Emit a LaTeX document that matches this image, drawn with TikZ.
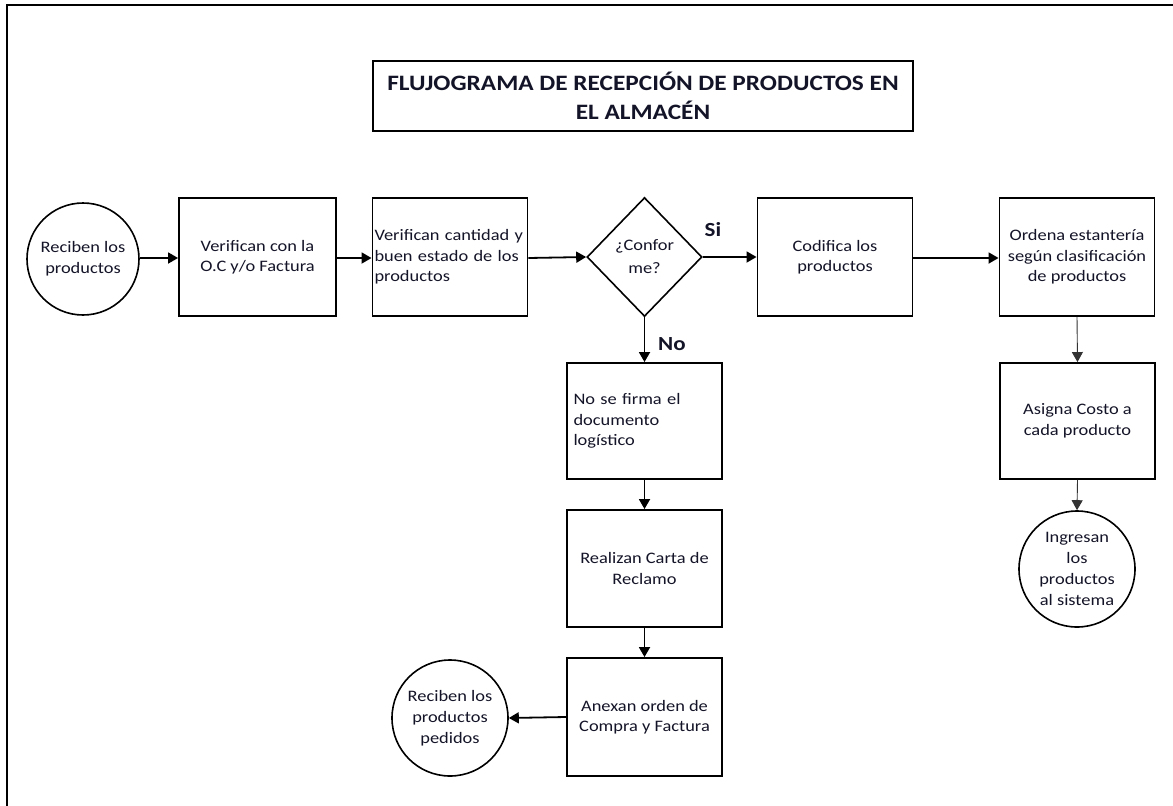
\documentclass[tikz,border=0pt]{standalone}
\usepackage{fontspec}
\setmainfont{Carlito}[FakeStretch=1.15]
\usetikzlibrary{shapes.geometric,arrows.meta}
\definecolor{txt}{RGB}{20,20,40}
\begin{document}
\begin{tikzpicture}[x=1pt,y=-1pt,
  box/.style={draw=black,line width=1.9pt,minimum width=155pt,minimum height=118pt,inner sep=2pt,align=center,font=\fontsize{16}{20.5}\selectfont,text=txt},
  lbox/.style={box,align=left,text width=#1},
  circ/.style={draw=black,line width=1.6pt,circle,minimum size=114pt,inner sep=0pt,align=center,font=\fontsize{16}{21}\selectfont,text=txt},
  dec/.style={draw=black,line width=1.6pt,diamond,minimum width=115pt,minimum height=119pt,inner sep=0pt,align=center,font=\fontsize{16}{23}\selectfont,text=txt},
  arr/.style={-{Triangle[length=10pt,width=11pt]},line width=1.8pt},
  tarr/.style={-{Triangle[length=10pt,width=11pt]},line width=0.9pt,draw=black!80},
  lab/.style={font=\bfseries\fontsize{20}{24}\selectfont,text=txt,inner sep=0pt}
]
\useasboundingbox (0,0) rectangle (1173,806);
\fill[white] (0,0) rectangle (1173,806);
% frame
\draw[line width=2.8pt] (7,806) -- (7,5) -- (1173,5);
% title
\node[draw=black,line width=1.8pt,minimum width=540pt,minimum height=70pt,inner sep=0pt,align=center,text=txt,font=\bfseries\fontsize{22}{29}\selectfont] (title) at (643,96) {FLUJOGRAMA DE RECEPCIÓN DE PRODUCTOS EN\\EL ALMACÉN};
% main row
\node[circ,minimum size=112pt] (c1) at (83,259) {Reciben los\\productos};
\node[box,minimum width=157pt] (b2) at (257.5,257) {Verifican con la\\O.C y/o Factura};
\node[lbox=151pt] (b3) at (450,257) {Verifican cantidad y\\buen estado de los\\productos};
\node[dec] (d) at (644.5,257) {¿Confor\\me?};
\node[box] (b4) at (835,257) {Codifica los\\productos};
\node[box] (b5) at (1077,257) {Ordena estantería\\según clasificación\\de productos};
% right column
\node[box,minimum height=116pt] (b6) at (1077.5,421) {Asigna Costo a\\cada producto};
\node[circ,minimum size=116pt] (c2) at (1077,569) {Ingresan\\los\\productos\\al sistema};
% middle column
\node[box,minimum height=116pt,align=left,text width=142pt,inner xsep=6.5pt] (b7) at (644.5,421) {No se firma el\\documento\\logístico};
\node[box,minimum height=117pt] (b8) at (644.5,568.5) {Realizan Carta de\\Reclamo};
\node[box] (b9) at (644.5,717) {Anexan orden de\\Compra y Factura};
\node[circ,minimum size=116pt] (c3) at (450,718) {Reciben los\\productos\\pedidos};
% labels
\node[lab] (si) at (713,230) {Si};
\node[lab] (no) at (672,344) {No};
% connectors
\draw[arr] (c1.east |- 0,258) -- (b2.west |- 0,258);
\draw[arr] (b2.east |- 0,258) -- (b3.west |- 0,258);
\draw[arr] (b3.east |- 0,258) -- (d.west);
\draw[arr] (d.east) -- (b4.west |- d.east);
\draw[arr] (b4.east |- 0,258) -- (b5.west |- 0,258);
\draw[arr] (d.south) -- (b7.north);
\draw[arr] (b7.south) -- (b8.north);
\draw[arr] (b8.south) -- (b9.north);
\draw[arr] (b9.west) -- (c3.east);
\draw[tarr] (b5.south) -- (b6.north);
\draw[tarr] (b6.south) -- (c2.north);
\end{tikzpicture}
\end{document}
